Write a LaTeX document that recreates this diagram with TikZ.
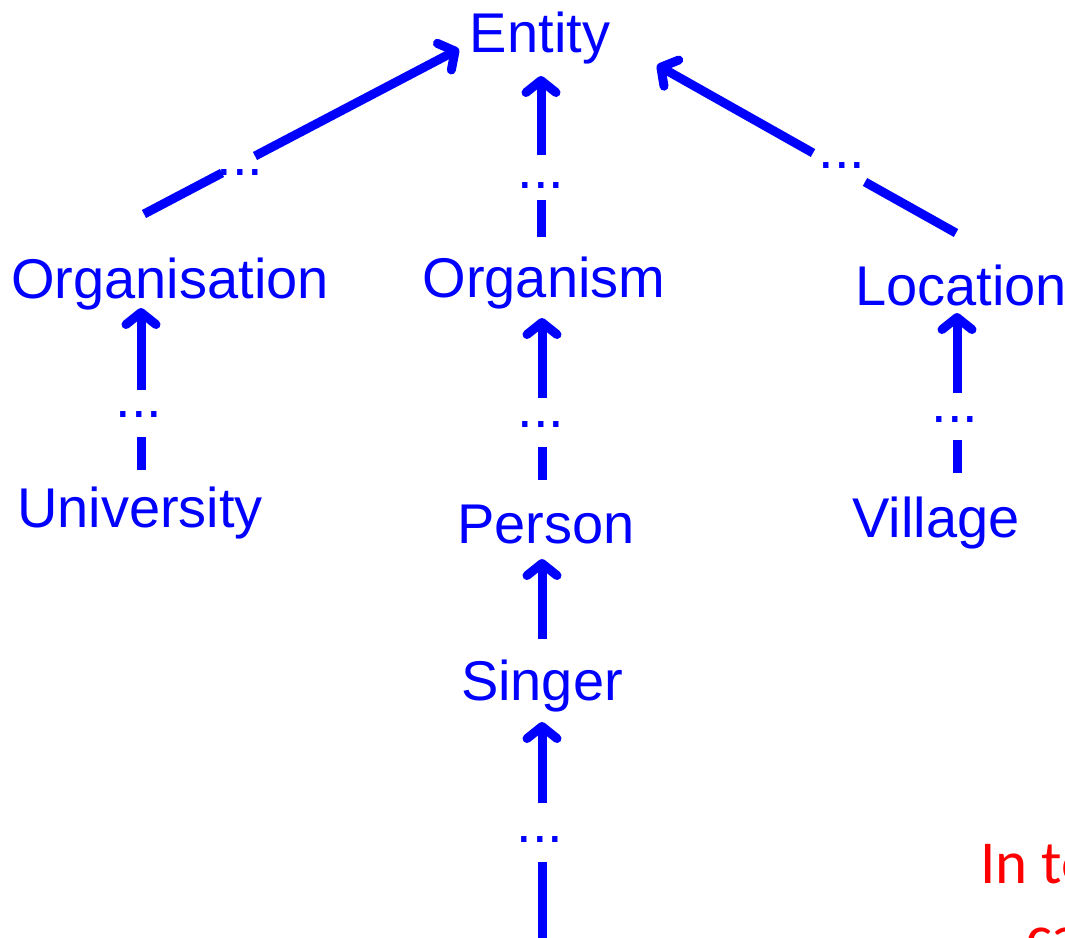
\documentclass[tikz,border=0pt]{standalone}
\usepackage{fontspec}
\setmainfont{Liberation Sans}
\newfontfamily\redfont{Carlito}
\usetikzlibrary{arrows.meta,calc}
\definecolor{tblue}{RGB}{0,0,255}
\definecolor{tred}{RGB}{255,0,0}
\begin{document}
\begin{tikzpicture}[x=1pt,y=-1pt,
  lbl/.style={text=tblue, font=\fontsize{56}{60}\selectfont, inner sep=0pt, text height=40pt, text depth=12pt, anchor=base},
  dts/.style={text=tblue, font=\fontsize{56}{60}\selectfont, inner sep=0pt, anchor=base},
  redtxt/.style={text=tred, font=\redfont\fontsize{61}{70}\selectfont, inner sep=0pt, anchor=base west},
  seg/.style={draw=tblue, line width=9pt, line cap=butt},
  arr/.style={seg, -{Straight Barb[length=12pt,width=30pt,round]}}]
\useasboundingbox (0,0) rectangle (1065,937);
\clip (0,0) rectangle (1065,937);

% labels
\node[lbl] (ent)  at (540,52)  {Entity};
\node[lbl] (org)  at (170,298) {Organisation};
\node[lbl] (orgm) at (544,297) {Organism};
\node[lbl] (loc)  at (961,305) {Location};
\node[lbl] (uni)  at (140,527) {University};
\node[lbl] (per)  at (546,543) {Person};
\node[lbl] (vil)  at (936,537) {Village};
\node[lbl] (sing) at (542,700) {Singer};

% ellipses
\node[dts] (dA) at (240,175) {...};
\node[dts] (dB) at (541,188) {...};
\node[dts] (dC) at (842,168) {...};
\node[dts] (dD) at (139,417) {...};
\node[dts] (dE) at (541,427) {...};
\node[dts] (dF) at (955,422) {...};
\node[dts] (dG) at (540,842) {...};

% Organisation -> Entity
\draw[seg] ($(org.base)+(-26,-84)$) -- ($(dA.base)+(-18,-2)$);
\draw[arr] ($(dA.base)+(15,-19)$) -- ($(ent.base)+(-81,-3)$);
% Organism -> Entity
\draw[seg] ($(orgm.base)+(-3,-60)$) -- ($(dB.base)+(0,12)$);
\draw[arr] ($(dB.base)+(0,-33)$) -- ($(ent.base)+(1,24)$);
% Location -> Entity
\draw[seg] ($(loc.base)+(-5,-72)$) -- ($(dC.base)+(23,14)$);
\draw[arr] ($(dC.base)+(-29,-15)$) -- ($(ent.base)+(117,13)$);
% University -> Organisation
\draw[seg] ($(uni.base)+(1,-57)$) -- ($(dD.base)+(2,20)$);
\draw[arr] ($(dD.base)+(2,-27)$) -- ($(org.base)+(-29,10)$);
% Person -> Organism
\draw[seg] ($(per.base)+(-4,-63)$) -- ($(dE.base)+(1,20)$);
\draw[arr] ($(dE.base)+(1,-29)$) -- ($(orgm.base)+(-2,21)$);
% Village -> Location
\draw[seg] ($(vil.base)+(21,-64)$) -- ($(dF.base)+(2,18)$);
\draw[arr] ($(dF.base)+(2,-29)$) -- ($(loc.base)+(-4,8)$);
% Singer -> Person
\draw[arr] ($(sing.base)+(0,-61)$) -- ($(per.base)+(-4,16)$);
% ... -> Singer
\coordinate (below) at (542,960);
\draw[seg] (below) -- ($(dG.base)+(2,20)$);
\draw[arr] ($(dG.base)+(2,-39)$) -- ($(sing.base)+(0,22)$);

% cropped red text
\node[redtxt] (red1) at (980,883) {In te};
\node[redtxt] (red2) at (1026,957) {ca};
\end{tikzpicture}
\end{document}
